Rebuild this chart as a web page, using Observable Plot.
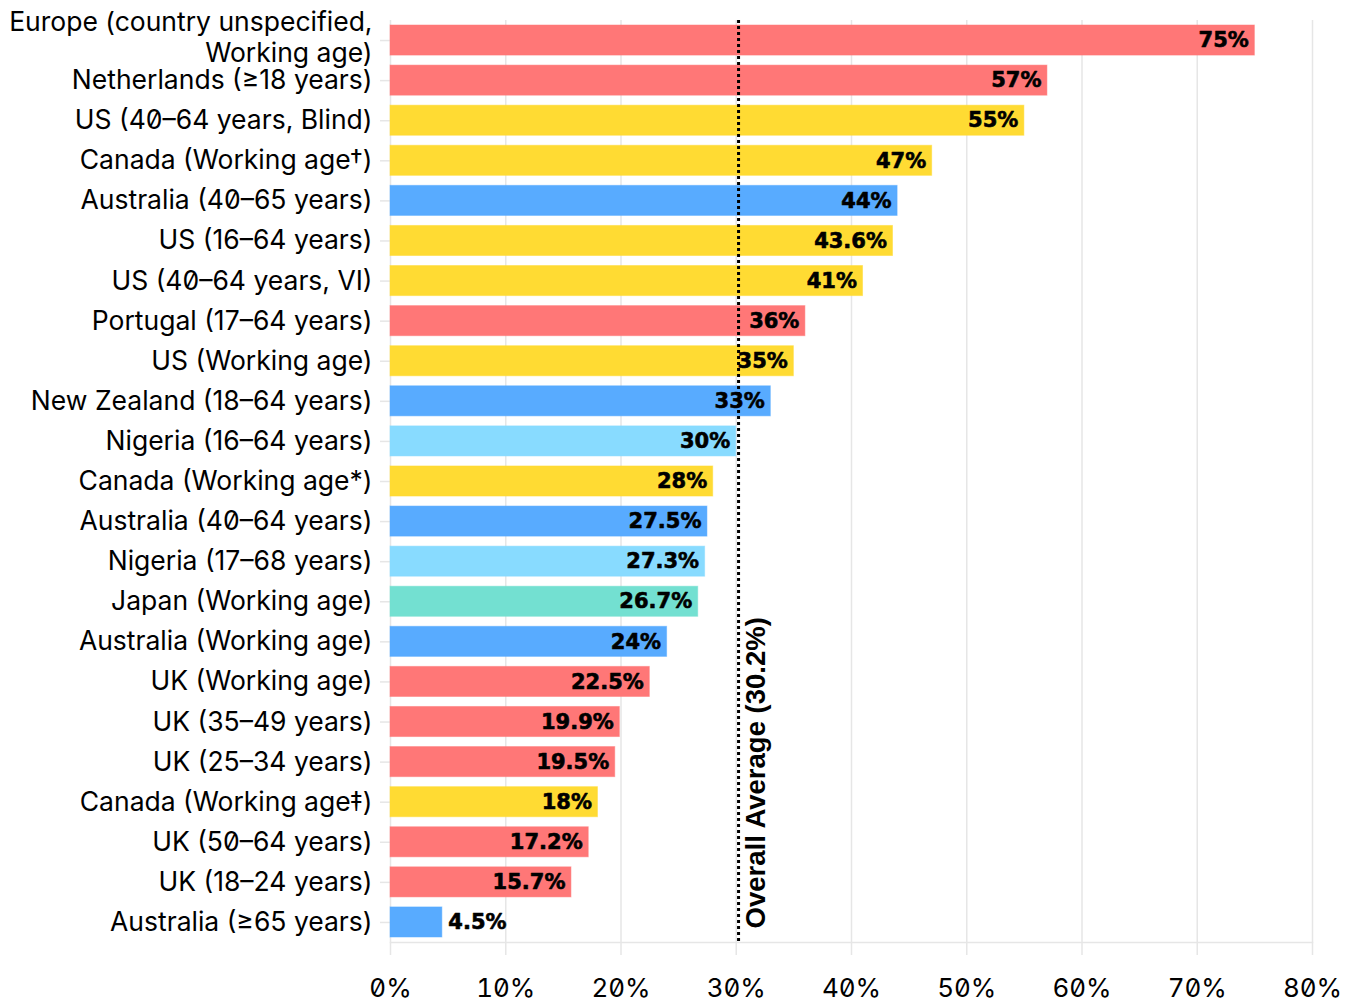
<!DOCTYPE html>
<html>
<head>
<meta charset="utf-8">
<script src="https://cdn.jsdelivr.net/npm/d3@7"></script>
<script src="https://cdn.jsdelivr.net/npm/@observablehq/plot@0.6"></script>
<style>
  html, body { margin: 0; padding: 0; background: #fff; }
  #chart svg text { font-feature-settings: "zero" 1; }
</style>
</head>
<body>
<div id="chart"></div>
<script>
const categories = [
  "Europe (country unspecified,\nWorking age)",
  "Netherlands (≥18 years)",
  "US (40–64 years, Blind)",
  "Canada (Working age†)",
  "Australia (40–65 years)",
  "US (16–64 years)",
  "US (40–64 years, VI)",
  "Portugal (17–64 years)",
  "US (Working age)",
  "New Zealand (18–64 years)",
  "Nigeria (16–64 years)",
  "Canada (Working age*)",
  "Australia (40–64 years)",
  "Nigeria (17–68 years)",
  "Japan (Working age)",
  "Australia (Working age)",
  "UK (Working age)",
  "UK (35–49 years)",
  "UK (25–34 years)",
  "Canada (Working age‡)",
  "UK (50–64 years)",
  "UK (18–24 years)",
  "Australia (≥65 years)"
];
const values = [75, 57, 55, 47, 44, 43.6, 41, 36, 35, 33, 30, 28, 27.5, 27.3, 26.7, 24, 22.5, 19.9, 19.5, 18, 17.2, 15.7, 4.5];
const labels = ["75%", "57%", "55%", "47%", "44%", "43.6%", "41%", "36%", "35%", "33%", "30%", "28%", "27.5%", "27.3%", "26.7%", "24%", "22.5%", "19.9%", "19.5%", "18%", "17.2%", "15.7%", "4.5%"];
const regions = ["Europe", "Europe", "North America", "North America", "Oceania", "North America", "North America", "Europe", "North America", "Oceania", "Africa", "North America", "Oceania", "Africa", "Asia", "Oceania", "Europe", "Europe", "Europe", "North America", "Europe", "Europe", "Oceania"];
const regionNames = ["Europe", "North America", "Oceania", "Africa", "Asia"];
const regionColors = ["#ff7777", "#ffdb33", "#58abff", "#88dbff", "#73e0d1"];
const xTicks = [0, 10, 20, 30, 40, 50, 60, 70, 80];
const average = 30.2;
const averageLabel = "Overall Average (30.2%)";

const data = categories.map((c, i) => ({category: c, value: values[i], label: labels[i], region: regions[i]}));
const colorOf = r => regionColors[regionNames.indexOf(r)];
const inside = data.filter(d => d.value >= 10);
const outside = data.filter(d => d.value < 10);
const multiLine = categories.filter(c => c.includes("\n"));
const lastCat = categories[categories.length - 1];

const labelFont = "Inter, 'Noto Sans', sans-serif";
const valueFont = "'DejaVu Sans', sans-serif";

const chart = Plot.plot({
  width: 1362,
  height: 1005,
  marginLeft: 390,
  marginRight: 50,
  marginTop: 20,
  marginBottom: 63,
  style: {fontFamily: labelFont, color: "black", background: "white"},
  x: {domain: [0, 80]},
  y: {domain: categories, paddingInner: 0.25, paddingOuter: 0.125, round: false},
  marks: [
    Plot.gridX(xTicks, {stroke: "#e6e6e6", strokeOpacity: 1, strokeWidth: 1.5}),
    Plot.frame({anchor: "bottom", stroke: "#e6e6e6", strokeWidth: 1.5}),
    Plot.axisX(xTicks, {tickSize: 13, stroke: "#e6e6e6", strokeWidth: 1.5, fill: "black", fontSize: 26, tickPadding: 23, tickFormat: d => d + "%", label: null}),
    Plot.axisY({tickSize: 10, stroke: "#e6e6e6", strokeWidth: 1.5, fill: "black", fontSize: 26.5, tickPadding: 8, tickFormat: d => d.includes("\n") ? "" : d, label: null}),
    Plot.text(multiLine, {y: d => d, text: d => d, frameAnchor: "left", textAnchor: "end", dx: -18, dy: -4, lineHeight: 1.17, fontSize: 26.5, fill: "black"}),
    Plot.barX(data, {x: "value", y: "category", fill: d => colorOf(d.region), stroke: d => colorOf(d.region), strokeOpacity: 0.5, fillOpacity: 1}),
    Plot.text(inside, {x: "value", y: "category", text: "label", textAnchor: "end", dx: -6, fontSize: 21, fontWeight: "bold", fontFamily: valueFont, fill: "black", stroke: "black", strokeWidth: 0.6}),
    Plot.text(outside, {x: "value", y: "category", text: "label", textAnchor: "start", dx: 6, fontSize: 21, fontWeight: "bold", fontFamily: valueFont, fill: "black", stroke: "black", strokeWidth: 0.6}),
    Plot.ruleX([average], {stroke: "black", strokeWidth: 3, strokeDasharray: "3,3"}),
    Plot.text([{x: average, y: lastCat, text: averageLabel}], {x: "x", y: "y", text: "text", rotate: -90, textAnchor: "start", lineAnchor: "top", dx: 7, dy: 6, fontSize: 27.5, fontWeight: "bold", fontFamily: "'Liberation Sans', Arial, sans-serif", fill: "black"})
  ]
});
document.getElementById("chart").appendChild(chart);
</script>
</body>
</html>
